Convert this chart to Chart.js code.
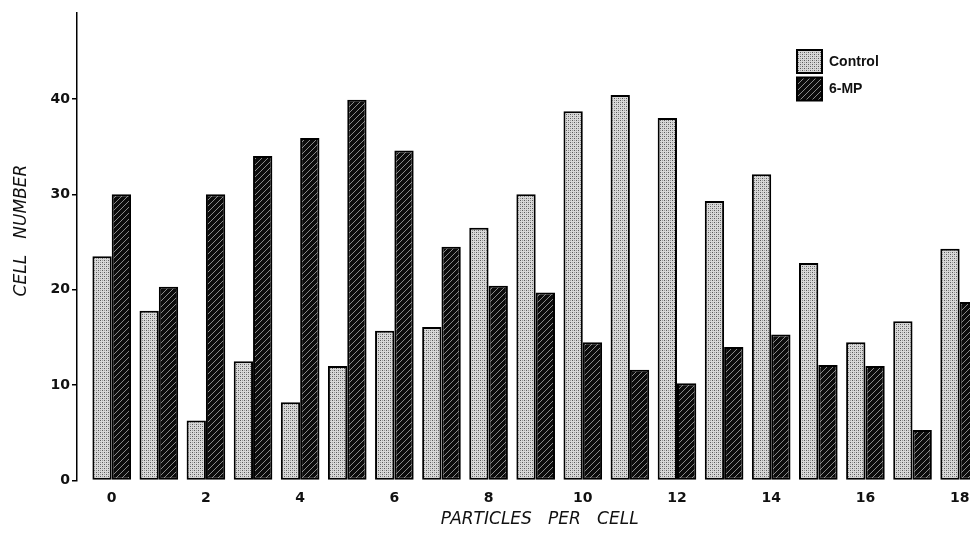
<!DOCTYPE html>
<html>
<head>
<meta charset="utf-8">
<script src="https://cdn.jsdelivr.net/npm/chart.js@4/dist/chart.umd.min.js"></script>
<style>
    html, body { margin: 0; padding: 0; background: #fff; }
    #cellChart { display: block; }
</style>
</head>
<body>
<canvas id="cellChart" width="970" height="533"></canvas>
<script>
// Particles per cell (x categories)
const particles = [0, 1, 2, 3, 4, 5, 6, 7, 8, 9, 10, 11, 12, 13, 14, 15, 16, 17, 18];
// Cell number, control
const control = [23.5, 17.8, 6.3, 12.5, 8.2, 12.0, 15.7, 16.1, 26.5, 30.0, 38.7, 40.4, 38.0, 29.3, 32.1, 22.8, 14.5, 16.7, 24.3];
// Cell number, 6-MP treated
const mp6 = [30.0, 20.3, 30.0, 34.0, 35.9, 39.9, 34.6, 24.5, 20.4, 19.7, 14.5, 11.6, 10.2, 14.0, 15.3, 12.1, 12.0, 5.3, 18.7];
const seriesNames = ['Control', '6-MP'];
const xTicks = [0, 2, 4, 6, 8, 10, 12, 14, 16, 18];
const yTicks = [0, 10, 20, 30, 40];

/**
 * Stippled grey fill (Control)
 */
function makeDotPattern() {
    const c = document.createElement('canvas');
    c.width = 4;
    c.height = 4;
    const g = c.getContext('2d');
    g.fillStyle = '#d8d8d8';
    g.fillRect(0, 0, 4, 4);
    g.fillStyle = '#5a5a5a';
    g.fillRect(0, 0, 1, 1);
    g.fillRect(2, 2, 1, 1);
    g.fillStyle = '#9a9a9a';
    g.fillRect(2, 0, 1, 1);
    g.fillRect(0, 2, 1, 1);
    return g.createPattern(c, 'repeat');
}

/**
 * Black fill with thin light diagonal hatching (6-MP)
 */
function makeHatchPattern() {
    const s = 6;
    const c = document.createElement('canvas');
    c.width = s;
    c.height = s;
    const g = c.getContext('2d');
    g.fillStyle = '#0c0c0c';
    g.fillRect(0, 0, s, s);
    g.strokeStyle = '#8a8a8a';
    g.lineWidth = 1;
    g.beginPath();
    g.moveTo(0, s);
    g.lineTo(s, 0);
    g.moveTo(-1, 1);
    g.lineTo(1, -1);
    g.moveTo(s - 1, s + 1);
    g.lineTo(s + 1, s - 1);
    g.stroke();
    return g.createPattern(c, 'repeat');
}

const fills = [makeDotPattern(), makeHatchPattern()];

// Legend drawn in the top right corner of the plot, stacked vertically
const boxLegend = {
    id: 'boxLegend',
    afterDraw(chart) {
        const ctx = chart.ctx;
        ctx.save();
        chart.data.datasets.forEach((ds, i) => {
            const x = 797;
            const y = 50 + i * 27.5;
            ctx.fillStyle = ds.backgroundColor;
            ctx.fillRect(x, y, 25, 23);
            ctx.strokeStyle = '#000';
            ctx.lineWidth = 2;
            ctx.strokeRect(x, y, 25, 23);
            ctx.fillStyle = '#111';
            ctx.font = 'bold 14px "Liberation Sans", Arial, sans-serif';
            ctx.textBaseline = 'middle';
            ctx.textAlign = 'left';
            ctx.fillText(ds.label, x + 32, y + 12);
        });
        ctx.restore();
    }
};

const tickFont = { family: '"DejaVu Sans", sans-serif', size: 14, weight: 'bold' };
const titleFont = { family: '"DejaVu Sans", sans-serif', size: 17, style: 'italic', weight: 'normal' };

const config = {
    type: 'bar',
    data: {
        datasets: [
            {
                label: seriesNames[0],
                data: particles.map((p, i) => ({ x: p, y: control[i] })),
                backgroundColor: fills[0],
                borderColor: '#000',
                borderWidth: 2,
                borderSkipped: false
            },
            {
                label: seriesNames[1],
                data: particles.map((p, i) => ({ x: p, y: mp6[i] })),
                backgroundColor: fills[1],
                borderColor: '#000',
                borderWidth: 2,
                borderSkipped: false
            }
        ]
    },
    options: {
        responsive: false,
        animation: false,
        layout: { padding: { top: 13, right: 0, bottom: 0, left: 0 } },
        datasets: {
            bar: { categoryPercentage: 0.82, barPercentage: 1.0 }
        },
        plugins: {
            legend: { display: false },
            tooltip: { enabled: false }
        },
        scales: {
            x: {
                type: 'linear',
                offset: false,
                min: -0.737,
                max: 18.22,
                // tick marks hidden, their length only spaces the labels
                grid: { display: false, drawTicks: true, tickLength: 9, offset: false },
                border: { display: false },
                afterBuildTicks: (scale) => {
                    scale.ticks = xTicks.map(v => ({ value: v }));
                },
                afterFit: (scale) => {
                    scale.height = 52.5;
                },
                ticks: {
                    font: tickFont,
                    color: '#111',
                    padding: 0,
                    maxRotation: 0,
                    callback: (v) => String(v)
                },
                title: {
                    display: true,
                    text: '      PARTICLES   PER   CELL',
                    font: titleFont,
                    color: '#111',
                    padding: { top: 0, bottom: 2.8 }
                }
            },
            y: {
                min: 0,
                max: 49,
                grid: {
                    display: true,
                    drawOnChartArea: false,
                    drawTicks: true,
                    tickLength: 5,
                    color: '#000',
                    lineWidth: 1.5
                },
                border: { display: true, color: '#000', width: 1.5 },
                afterBuildTicks: (scale) => {
                    scale.ticks = yTicks.map(v => ({ value: v }));
                },
                afterFit: (scale) => {
                    scale.width = 77;
                },
                ticks: {
                    font: tickFont,
                    color: '#111',
                    padding: 2
                },
                title: {
                    display: true,
                    text: '      CELL   NUMBER',
                    font: titleFont,
                    color: '#111',
                    padding: { top: 11.8, bottom: 0 }
                }
            }
        }
    },
    plugins: [boxLegend]
};

new Chart(document.getElementById('cellChart'), config);
</script>
</body>
</html>
